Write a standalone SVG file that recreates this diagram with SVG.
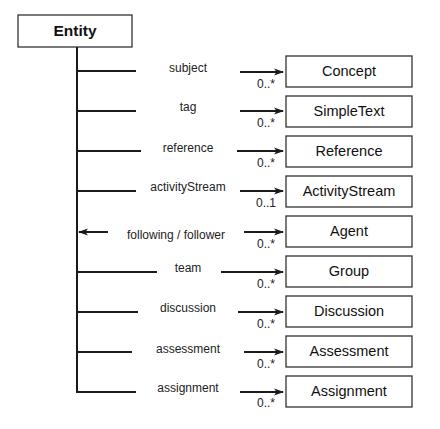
<svg xmlns="http://www.w3.org/2000/svg" width="440" height="429" viewBox="0 0 440 429">
<defs>
<marker id="ah" viewBox="0 0 10 8" refX="9" refY="4" markerWidth="10" markerHeight="8" markerUnits="userSpaceOnUse" orient="auto">
<path d="M0,0.5 L10,4 L0,7.5 L2.5,4 z" fill="#1a1a1a"/>
</marker>
</defs>
<style>
.box{fill:#fff;stroke:#333;stroke-width:1.3}
.bt{font-family:"Liberation Sans",Arial,sans-serif;font-size:14.5px;fill:#111;text-anchor:middle}
.lbl{font-family:"Liberation Sans",Arial,sans-serif;font-size:12px;fill:#222;text-anchor:middle}
.mul{font-family:"Liberation Sans",Arial,sans-serif;font-size:12px;fill:#222}
.ln{stroke:#1a1a1a;stroke-width:2;fill:none}
.ar{stroke:#1a1a1a;stroke-width:2;fill:none;marker-end:url(#ah)}
</style>
<rect width="440" height="429" fill="#fff"/>
<g id="entity">
<rect class="box" x="18" y="15" width="114" height="32"/>
<text x="75" y="36" font-family="Liberation Sans,Arial,sans-serif" font-size="15.5" font-weight="bold" fill="#111" text-anchor="middle">Entity</text>
</g>
<g id="connectors">
<path class="ln" d="M77,47 V393"/>
<path class="ln" d="M77,71 H136 M77,111 H136 M77,151 H141 M77,191 H136 M77,272 H157 M77,312 H138 M77,352 H132 M77,392 H136"/>
<path class="ar" d="M108,232 H79"/>
<path class="ar" d="M240,72 H283"/>
<path class="ar" d="M240,111 H283"/>
<path class="ar" d="M237,151 H283"/>
<path class="ar" d="M240,191 H283"/>
<path class="ar" d="M244,232 H283"/>
<path class="ar" d="M221,272 H283"/>
<path class="ar" d="M238,312 H283"/>
<path class="ar" d="M244,352 H283"/>
<path class="ar" d="M240,392 H283"/>
<text class="lbl" x="188" y="72">subject</text>
<text class="lbl" x="188" y="111">tag</text>
<text class="lbl" x="188" y="152">reference</text>
<text class="lbl" x="188" y="191">activityStream</text>
<text class="lbl" x="176" y="239">following / follower</text>
<text class="lbl" x="188" y="272">team</text>
<text class="lbl" x="188" y="312">discussion</text>
<text class="lbl" x="188" y="353">assessment</text>
<text class="lbl" x="188" y="392">assignment</text>
<text class="mul" x="257" y="88">0..*</text>
<text class="mul" x="257" y="127">0..*</text>
<text class="mul" x="257" y="167">0..*</text>
<text class="mul" x="256" y="207">0..1</text>
<text class="mul" x="257" y="248">0..*</text>
<text class="mul" x="257" y="288">0..*</text>
<text class="mul" x="257" y="328">0..*</text>
<text class="mul" x="257" y="368">0..*</text>
<text class="mul" x="257" y="407">0..*</text>
</g>
<g id="concept"><rect class="box" x="286" y="56" width="126" height="31"/><text class="bt" x="349" y="76">Concept</text></g>
<g id="simpletext"><rect class="box" x="286" y="96" width="126" height="31"/><text class="bt" x="349" y="116">SimpleText</text></g>
<g id="reference"><rect class="box" x="286" y="136" width="126" height="31"/><text class="bt" x="349" y="156">Reference</text></g>
<g id="activitystream"><rect class="box" x="286" y="176" width="126" height="31"/><text class="bt" x="349" y="196">ActivityStream</text></g>
<g id="agent"><rect class="box" x="286" y="216" width="126" height="31"/><text class="bt" x="349" y="236">Agent</text></g>
<g id="group"><rect class="box" x="286" y="256" width="126" height="31"/><text class="bt" x="349" y="276">Group</text></g>
<g id="discussion"><rect class="box" x="286" y="296" width="126" height="31"/><text class="bt" x="349" y="316">Discussion</text></g>
<g id="assessment"><rect class="box" x="286" y="336" width="126" height="31"/><text class="bt" x="349" y="356">Assessment</text></g>
<g id="assignment"><rect class="box" x="286" y="376" width="126" height="31"/><text class="bt" x="349" y="396">Assignment</text></g>
</svg>
